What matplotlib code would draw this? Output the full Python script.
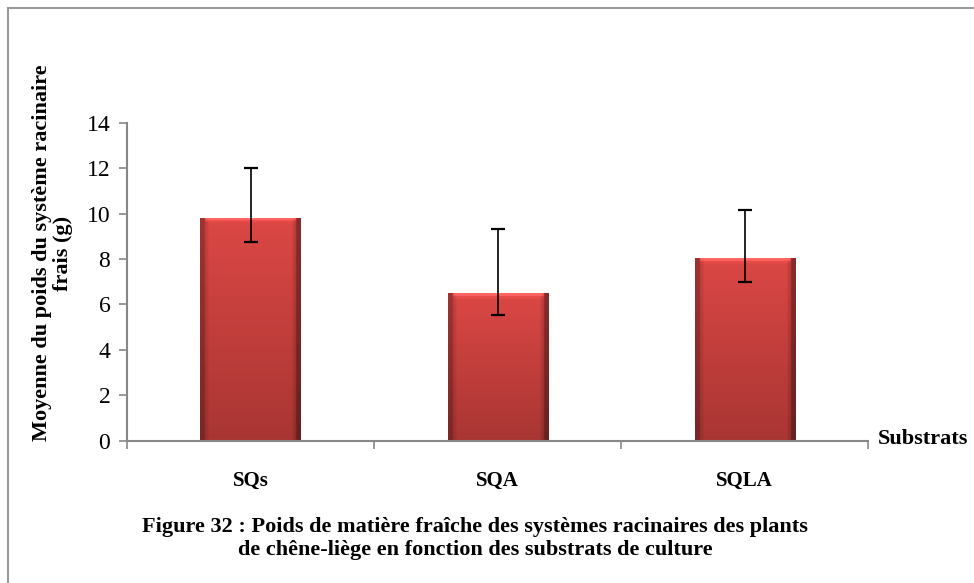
import numpy as np
import matplotlib
matplotlib.use("Agg")
import matplotlib.pyplot as plt
from matplotlib.lines import Line2D

# root fresh weight per substrate (g), with lower / upper error
substrats = ["SQs", "SQA", "SQLA"]
moyennes = [9.8, 6.5, 8.05]
err_bas = [1.05, 0.95, 1.05]
err_haut = [2.2, 2.8, 2.1]

plt.rcParams['font.family'] = ['Liberation Serif', 'DejaVu Serif']

fig = plt.figure(figsize=(9.74, 5.83), dpi=100)
ax = fig.add_axes([0.1304, 0.2441, 0.7608, 0.5454])

x = np.arange(len(substrats))
bars = ax.bar(x, moyennes, width=0.405, color="#c83c3a", zorder=2)

# shaded fill: lighter at the top, darker at the bottom and on the sides
ny, nx = 200, 60
tv = np.linspace(0, 1, ny)[:, None]
th = np.linspace(0, 1, nx)[None, :]
top = np.array([0.86, 0.28, 0.27])
bot = np.array([0.66, 0.21, 0.20])
img = top[None, None, :] * (1 - tv[..., None]) + bot[None, None, :] * tv[..., None]
edge = np.ones((1, nx))
edge[:, th[0] < 0.035] = 0.72
edge[:, th[0] > 0.965] = 0.62
edge[:, (th[0] >= 0.035) & (th[0] < 0.07)] = 0.92
edge[:, (th[0] <= 0.965) & (th[0] > 0.93)] = 0.9
img = img * edge[..., None]
img = np.broadcast_to(img, (ny, nx, 3)).copy()

for b in bars:
    x0, w, h = b.get_x(), b.get_width(), b.get_height()
    im = img.copy()
    hl = max(int(ny * 0.14 / h), 2)  # light bevel along the top
    im[:hl, 3:-3] = np.clip(im[:hl, 3:-3] * 1.25 + 0.05, 0, 1)
    im[hl:hl * 2, 3:-3] = np.clip(im[hl:hl * 2, 3:-3] * 1.06, 0, 1)
    ai = ax.imshow(im, extent=(x0, x0 + w, 0, h), aspect="auto",
                   origin="upper", zorder=2.5, interpolation="bilinear")
    ai.set_clip_path(b)

ax.errorbar(x, moyennes, yerr=[err_bas, err_haut], fmt="none", ecolor="black",
            elinewidth=1.2, capsize=5, capthick=1.6, zorder=3)

ax.set_xlim(-0.5, 2.5)
ax.set_ylim(0, 14)
ax.set_yticks(range(0, 15, 2))
ax.set_xticks(x)
ax.set_xticklabels(substrats, fontsize=15, fontweight="bold")
ax.set_xticks([-0.5, 0.5, 1.5, 2.5], minor=True)
ax.tick_params(axis="x", which="major", length=0, pad=22)
ax.tick_params(axis="x", which="minor", length=6, color="#878787", width=1.2)
ax.tick_params(axis="y", labelsize=17, length=6, color="#878787", width=1.2, pad=6)

for s in ["top", "right"]:
    ax.spines[s].set_visible(False)
for s in ["left", "bottom"]:
    ax.spines[s].set_color("#878787")
    ax.spines[s].set_linewidth(1.5)

ax.set_ylabel("Moyenne du poids du système racinaire\nfrais (g)", fontsize=16,
              fontweight="bold", linespacing=1.05)
ax.yaxis.set_label_coords(-0.073, 0.59)

fig.text(0.9015, 0.247, "Substrats", fontsize=16, fontweight="bold", va="center")

fig.text(0.4875, 0.077, "Figure 32 : Poids de matière fraîche des systèmes racinaires des plants\n"
         "de chêne-liège en fonction des substrats de culture",
         fontsize=16, fontweight="bold", ha="center", va="center", linespacing=1.2)

# frame lines along the top and left edges
fig.add_artist(Line2D([8 / 974, 1.0], [1 - 8 / 583, 1 - 8 / 583], color="#9a9a9a", lw=1.5))
fig.add_artist(Line2D([8 / 974, 8 / 974], [0.0, 1 - 8 / 583], color="#9a9a9a", lw=1.5))

fig.savefig("out.png", dpi=100)
